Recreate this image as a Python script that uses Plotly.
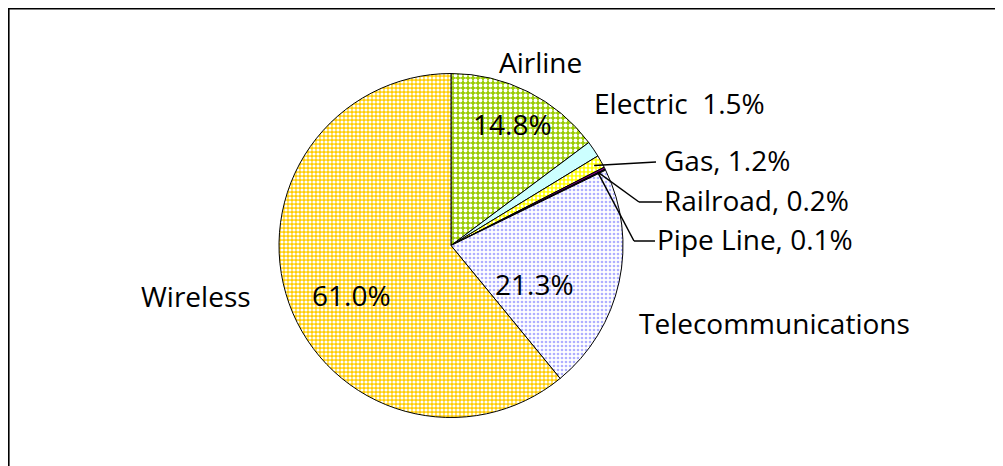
import math
import plotly.graph_objects as go

# ---- data ----
categories = ["Airline", "Electric", "Gas", "Railroad", "Pipe Line", "Telecommunications", "Wireless"]
values = [14.8, 1.5, 1.2, 0.2, 0.1, 21.3, 61.0]
outside_labels = ["Airline", "Electric  1.5%", "Gas, 1.2%", "Railroad, 0.2%", "Pipe Line, 0.1%",
                  "Telecommunications", "Wireless"]
inside_labels = ["14.8%", "", "", "", "", "21.3%", "61.0%"]

colors = ["#99CC00", "#CCFFFF", "#FFFF00", "#800080", "#000080", "#FFFFFF", "#FFCC00"]
pat_fg = ["#FFFFFF", "#CCFFFF", "#FFFFFF", "#800080", "#000080", "#AFAFFF", "#FFFFFF"]
pat_shape = [".", "", ".", "", "", ".", "."]
pat_size = [5, 4, 4, 4, 4, 4, 4]
pat_sol = [0.45, 0.3, 0.4, 0.3, 0.3, 0.35, 0.5]

W, H = 1003, 466
OFF = 8  # page body margin
CX, CY, R = 451, 245.5, 172

def px(x):
    return (x - OFF) / W

def py(y):
    return 1 - (y - OFF) / H

fig = go.Figure(go.Pie(
    labels=categories,
    values=values,
    sort=False,
    direction="clockwise",
    rotation=0,
    textinfo="none",
    hoverinfo="label+percent",
    marker=dict(
        colors=colors,
        line=dict(color="#000000", width=1),
        pattern=dict(shape=pat_shape, fgcolor=pat_fg, bgcolor=colors,
                     size=pat_size, solidity=pat_sol, fillmode="replace"),
    ),
    domain=dict(x=[px(CX - R), px(CX + R)], y=[py(CY + R), py(CY - R)]),
    showlegend=False,
))

FONT = dict(family="Open Sans, Lato, sans-serif", size=28, color="#000000")

# label anchor positions (screen pixels)
label_pos = {
    "Airline": (540, 62, "center"),
    "Electric": (592, 103, "left"),
    "Gas": (662, 160, "left"),
    "Railroad": (662, 200, "left"),
    "Pipe Line": (655, 239, "left"),
    "Telecommunications": (637, 323, "left"),
    "Wireless": (253, 296, "right"),
}
inside_pos = {
    "Airline": (512, 124),
    "Telecommunications": (534, 284),
    "Wireless": (351, 295),
}

annotations = []
shapes = []
total = sum(values)
cum = 0.0
leader = {"Gas": None, "Railroad": 639, "Pipe Line": 634}
for cat, v, ol, il in zip(categories, values, outside_labels, inside_labels):
    mid = (cum + v / 2) / total * 2 * math.pi
    cum += v
    lx, ly, anchor = label_pos[cat]
    annotations.append(dict(x=px(lx), y=py(ly), xref="paper", yref="paper", text=ol,
                            showarrow=False, xanchor=anchor, yanchor="middle", font=FONT))
    if il:
        ix, iy = inside_pos[cat]
        annotations.append(dict(x=px(ix), y=py(iy), xref="paper", yref="paper", text=il,
                                showarrow=False, xanchor="center", yanchor="middle", font=FONT))
    if cat in leader:
        ex = CX + (R - 8) * math.sin(mid)
        ey = CY - (R - 8) * math.cos(mid)
        elbow = leader[cat]
        if elbow is None:
            shapes.append(dict(type="line", xref="paper", yref="paper",
                               x0=px(ex), y0=py(ey), x1=px(lx - 6), y1=py(ly + 2),
                               line=dict(color="#000000", width=1.5)))
        else:
            shapes.append(dict(type="line", xref="paper", yref="paper",
                               x0=px(ex), y0=py(ey), x1=px(elbow), y1=py(ly + 2),
                               line=dict(color="#000000", width=1.5)))
            shapes.append(dict(type="line", xref="paper", yref="paper",
                               x0=px(elbow), y0=py(ly + 2), x1=px(lx), y1=py(ly + 2),
                               line=dict(color="#000000", width=1.5)))

# chart frame
shapes.append(dict(type="rect", xref="paper", yref="paper",
                   x0=px(8.6), y0=py(480), x1=px(1030), y1=py(8.6),
                   line=dict(color="#000000", width=2), layer="above"))

fig.update_layout(
    width=W, height=H,
    margin=dict(l=0, r=0, t=0, b=0),
    paper_bgcolor="#FFFFFF",
    plot_bgcolor="#FFFFFF",
    annotations=annotations,
    shapes=shapes,
)

fig.write_html("out.html")
